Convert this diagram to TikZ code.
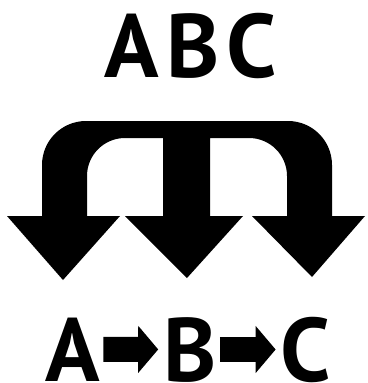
\documentclass[tikz,border=0pt]{standalone}
\usepackage{fontspec}
\setmainfont{PT Sans}
\usetikzlibrary{arrows.meta,positioning}

\begin{document}
\begin{tikzpicture}[
  x=1pt, y=-1pt,
  letter/.style={inner sep=0pt, anchor=base, font=\fontsize{90}{90}\selectfont\bfseries},
  bigarrow/.style={line width=25pt, -{Triangle[length=20pt, width=46pt]}, shorten <=3pt, shorten >=5pt}
]
  \useasboundingbox (0,0) rectangle (367,383);

  % top label
  \node[letter, font=\fontsize{90}{90}\selectfont\bfseries\addfontfeature{LetterSpace=8}] (abc) at (191,77) {ABC};

  % arch over the three arrows
  \fill (42,216) -- (42,165) arc[start angle=180, end angle=270, radius=44]
    -- (288,121) arc[start angle=270, end angle=360, radius=44]
    -- (332,216) -- (287,216) -- (287,176) arc[start angle=0, end angle=-90, radius=38]
    -- (210,138) -- (210,216) -- (163,216) -- (163,138)
    -- (125,138) arc[start angle=270, end angle=180, radius=38] -- (87,216) -- cycle;

  % arrow heads
  \fill (7,216) -- (120,216) -- (63,280) -- cycle;
  \fill (125,216) -- (243,216) -- (187,278) -- cycle;
  \fill (252,216) -- (365,216) -- (312,277) -- cycle;

  % bottom row
  \node[letter] (a) at (73,381) {A};
  \node[letter] (b) at (190,381) {B};
  \node[letter] (c) at (306,381) {C};

  \draw[bigarrow] (a) -- (b);
  \draw[bigarrow] (b) -- (c);
\end{tikzpicture}
\end{document}
